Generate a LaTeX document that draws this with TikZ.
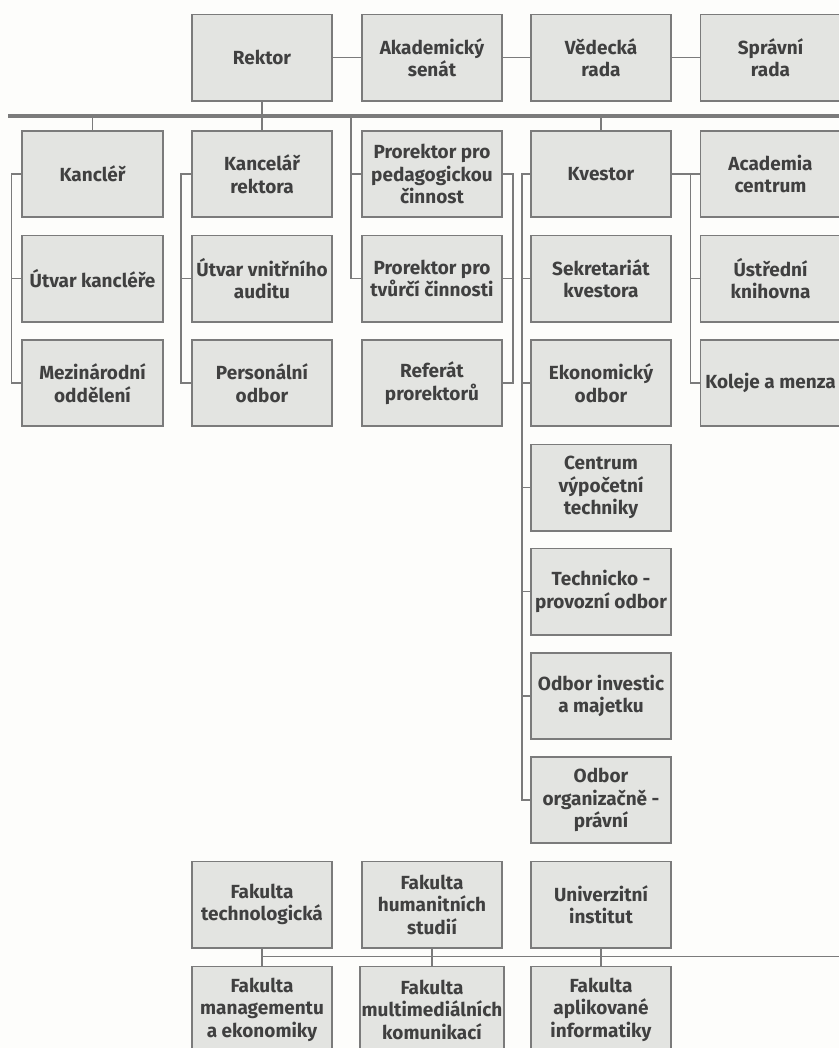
\documentclass[tikz,border=0pt]{standalone}
\usepackage{fontspec}
\setmainfont{Fira Sans}
\usepackage{tikz}
\definecolor{boxfill}{HTML}{E3E4E1}
\definecolor{boxline}{HTML}{7B7B7B}
\definecolor{boxtext}{HTML}{404040}
\definecolor{paper}{HTML}{FDFDFB}

\begin{document}
\begin{tikzpicture}[x=0.025cm, y=-0.025cm,
    unit/.style={draw=boxline, fill=boxfill, line width=1.4pt, rectangle, minimum width=3.5cm, minimum height=2.15cm,
        inner sep=1pt, align=center, text=boxtext, font=\fontsize{13.5}{16}\selectfont\bfseries},
    link/.style={draw=boxline, line width=1.4pt},
    bar/.style={draw=boxline, line width=2.8pt}]
    \fill[paper] (0,0) rectangle (839,1048);
    \useasboundingbox (0,0) rectangle (839,1048);

    % Top row
    \node[unit] (rektor) at (262,57.5) {Rektor};
    \node[unit] (senat) at (432,57.5) {Akademický\\senát};
    \node[unit] (vedecka) at (601,57.5) {Vědecká\\rada};
    \node[unit] (spravni) at (770.5,57.5) {Správní\\rada};

    % Kancléř
    \node[unit] (kancler) at (92.5,174) {Kancléř};
    \node[unit] (utkancl) at (92.5,278.5) {Útvar kancléře};
    \node[unit] (mezinar) at (92.5,383) {Mezinárodní\\oddělení};

    % Kancelář rektora
    \node[unit] (kancrekt) at (262,174) {Kancelář\\rektora};
    \node[unit] (audit) at (262,278.5) {Útvar vnitřního\\auditu};
    \node[unit] (personal) at (262,383) {Personální\\odbor};

    % Prorektoři
    \node[unit] (proped) at (432,174) {Prorektor pro\\pedagogickou\\činnost};
    \node[unit] (protvur) at (432,278.5) {Prorektor pro\\tvůrčí činnosti};
    \node[unit] (referat) at (432,383) {Referát\\prorektorů};

    % Kvestor
    \node[unit] (kvestor) at (601,174) {Kvestor};
    \node[unit] (sekret) at (601,278.5) {Sekretariát\\kvestora};
    \node[unit] (ekonom) at (601,383) {Ekonomický\\odbor};
    \node[unit] (cvt) at (601,487.5) {Centrum\\výpočetní\\techniky};
    \node[unit] (techprov) at (601,591.5) {Technicko -\\provozní odbor};
    \node[unit] (investic) at (601,696) {Odbor investic\\a majetku};
    \node[unit] (pravni) at (601,800) {Odbor\\organizačně -\\právní};

    % Academia
    \node[unit] (academia) at (770.5,174) {Academia\\centrum};
    \node[unit] (knihovna) at (770.5,278.5) {Ústřední\\knihovna};
    \node[unit] (koleje) at (770.5,383) {Koleje a menza};

    % Fakulty
    \node[unit] (ft) at (262,904.5) {Fakulta\\technologická};
    \node[unit] (fhs) at (432,904.5) {Fakulta\\humanitních\\studií};
    \node[unit] (ui) at (601,904.5) {Univerzitní\\institut};
    \node[unit] (fame) at (262,1009.5) {Fakulta\\managementu\\a ekonomiky};
    \node[unit] (fmk) at (432,1009.5) {Fakulta\\multimediálních\\komunikací};
    \node[unit] (fai) at (601,1009.5) {Fakulta\\aplikované\\informatiky};

    % bars
    \coordinate (barL) at (8,116);
    \coordinate (barR) at (839,116);
    \coordinate (fbarL) at (262,956.5);
    \coordinate (fbarR) at (839,956.5);
    \draw[bar] (barL) -- (barR);
    \draw[link] (fbarL) -- (fbarR);

    % top row links
    \draw[link] (rektor) -- (senat);
    \draw[link] (senat) -- (vedecka);
    \draw[link] (vedecka) -- (spravni);
    \draw[link] (rektor.south) -- (rektor.south |- barL);

    % stubs from the bar
    \draw[link] (kancler.north) -- (kancler.north |- barL);
    \draw[link] (kancrekt.north) -- (kancrekt.north |- barL);
    \draw[link] (kvestor.north) -- (kvestor.north |- barL);

    % brackets
    \draw[link] (kancler.west) -- ++(-10,0) |- (mezinar.west);
    \draw[link] (utkancl.west) -- ++(-10,0);
    \draw[link] (kancrekt.west) -- ++(-10,0) |- (personal.west);
    \draw[link] (audit.west) -- ++(-10,0);
    \draw[link] ([xshift=-0.25cm]proped.west |- barL) |- (protvur.west);
    \draw[link] (proped.west) -- ++(-10,0);
    \draw[link] (proped.east) -- ++(10,0) |- (referat.east);
    \draw[link] (protvur.east) -- ++(10,0);
    \draw[link] (kvestor.west) -- ++(-8,0) |- (pravni.west);
    \foreach \n in {sekret,ekonom,cvt,techprov,investic}
        \draw[link] (\n.west) -- ++(-8,0);
    \draw[link] (kvestor) -- (academia);
    \draw[link] (academia.west) -- ++(-9,0) |- (koleje.west);
    \draw[link] (knihovna.west) -- ++(-9,0);

    % faculties
    \draw[link] (ft) -- (fame);
    \draw[link] (fhs) -- (fmk);
    \draw[link] (ui) -- (fai);
\end{tikzpicture}
\end{document}
